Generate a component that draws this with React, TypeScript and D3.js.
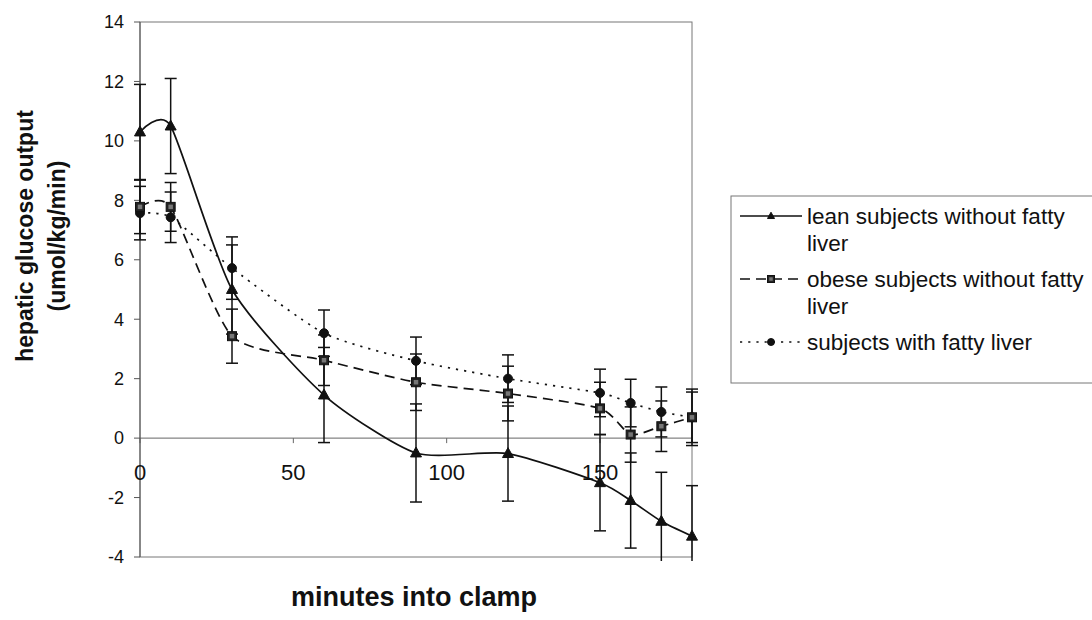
import React from "react";
import * as d3 from "d3";

const minutes = [0, 10, 30, 60, 90, 120, 150, 160, 170, 180];
const lean = [10.3, 10.5, 5.0, 1.45, -0.5, -0.52, -1.5, -2.1, -2.8, -3.3];
const leanErr = [1.6, 1.6, 1.5, 1.6, 1.65, 1.6, 1.62, 1.6, 1.65, 1.7];
const obese = [7.78, 7.78, 3.43, 2.62, 1.88, 1.5, 1.0, 0.12, 0.4, 0.7];
const obeseErr = [0.9, 0.82, 0.91, 0.85, 0.95, 0.92, 0.88, 0.93, 0.85, 0.95];
const fatty = [7.57, 7.43, 5.72, 3.53, 2.6, 2.0, 1.52, 1.18, 0.88, 0.7];
const fattyErr = [0.9, 0.85, 1.05, 0.78, 0.8, 0.8, 0.8, 0.8, 0.84, 0.85];

const yTicks = [-4, -2, 0, 2, 4, 6, 8, 10, 12, 14];
const xTicks = [0, 50, 100, 150];
const seriesNames = [
  ["lean subjects without fatty", "liver"],
  ["obese subjects without fatty", "liver"],
  ["subjects with fatty liver"],
];

const FONT = "'Liberation Sans', Arial, Helvetica, sans-serif";

type Series = {
  values: number[];
  errs: number[];
  dash: string | undefined;
  marker: "tri" | "sq" | "circ";
  name: string[];
};

const series: Series[] = [
  { values: lean, errs: leanErr, dash: undefined, marker: "tri", name: seriesNames[0] },
  { values: obese, errs: obeseErr, dash: "10,6", marker: "sq", name: seriesNames[1] },
  { values: fatty, errs: fattyErr, dash: "2.2,6", marker: "circ", name: seriesNames[2] },
];

function Marker({ kind, cx, cy, s }: { kind: string; cx: number; cy: number; s: number }) {
  if (kind === "tri") {
    const h = s * 0.9;
    return (
      <path
        d={`M${cx},${cy - h * 0.6} L${cx + s / 2},${cy + h * 0.4} L${cx - s / 2},${cy + h * 0.4} Z`}
        fill="#111"
        stroke="#111"
        strokeWidth={1}
      />
    );
  }
  if (kind === "sq") {
    return (
      <g>
        <rect x={cx - s / 2} y={cy - s / 2} width={s} height={s} fill="#222" stroke="#111" strokeWidth={1} />
        <rect x={cx - s / 4} y={cy - s / 4} width={s / 2} height={s / 2} fill="#777" />
      </g>
    );
  }
  return <circle cx={cx} cy={cy} r={s / 2} fill="#111" stroke="#111" strokeWidth={1} />;
}

export default function App() {
  const W = 1092;
  const H = 620;
  const x = d3.scaleLinear().domain([0, 180]).range([140, 692]);
  const y = d3.scaleLinear().domain([-4, 14]).range([557, 22]);

  const line = d3
    .line<number>()
    .x((_, i) => x(minutes[i]))
    .y((d) => y(d))
    .curve(d3.curveCardinal.tension(0.35));

  const capHalf = 6;
  const drawOrder = [2, 1, 0];

  return (
    <svg
      width={W}
      height={H}
      style={{ position: "absolute", left: 0, top: 0, background: "#fff" }}
      fontFamily={FONT}
    >
      <defs>
        <clipPath id="plotClip">
          <rect x={100} y={0} width={620} height={561} />
        </clipPath>
      </defs>
      <rect x={0} y={0} width={W} height={H} fill="#fff" />

      {/* plot frame */}
      <rect x={x(0)} y={y(14)} width={x(180) - x(0)} height={y(-4) - y(14)} fill="none" stroke="#777" strokeWidth={1} />
      {/* zero axis */}
      <line x1={x(0)} x2={x(180)} y1={y(0)} y2={y(0)} stroke="#666" strokeWidth={1} />
      {xTicks.map((t) => (
        <line key={"xt" + t} x1={x(t)} x2={x(t)} y1={y(0)} y2={y(0) + 5} stroke="#666" strokeWidth={1} />
      ))}
      {/* y axis */}
      <line x1={x(0)} x2={x(0)} y1={y(14)} y2={y(-4)} stroke="#555" strokeWidth={1} />
      {yTicks.map((t) => (
        <g key={"yt" + t}>
          <line x1={x(0) - 6} x2={x(0)} y1={y(t)} y2={y(t)} stroke="#555" strokeWidth={1} />
          <text x={124} y={y(t)} dy="0.35em" textAnchor="end" fontSize={18} fill="#111">
            {t}
          </text>
        </g>
      ))}
      {xTicks.map((t) => (
        <text key={"xl" + t} x={x(t)} y={480} textAnchor="middle" fontSize={22} fill="#111">
          {t}
        </text>
      ))}

      {/* error bars */}
      <g clipPath="url(#plotClip)">
        {series.map((s, si) =>
          s.values.map((v, i) => {
            const cx = x(minutes[i]);
            const top = y(v + s.errs[i]);
            const bot = y(v - s.errs[i]);
            return (
              <g key={`eb${si}-${i}`} stroke="#111" strokeWidth={1.5}>
                <line x1={cx} x2={cx} y1={top} y2={bot} />
                <line x1={cx - capHalf} x2={cx + capHalf} y1={top} y2={top} />
                <line x1={cx - capHalf} x2={cx + capHalf} y1={bot} y2={bot} />
              </g>
            );
          })
        )}
      </g>

      {/* lines */}
      {series.map((s, si) => (
        <path
          key={"ln" + si}
          d={line(s.values) || ""}
          fill="none"
          stroke="#111"
          strokeWidth={1.7}
          strokeDasharray={s.dash}
        />
      ))}

      {/* markers */}
      {drawOrder.map((si) =>
        series[si].values.map((v, i) => (
          <Marker
            key={`mk${si}-${i}`}
            kind={series[si].marker}
            cx={x(minutes[i])}
            cy={y(v)}
            s={series[si].marker === "tri" ? 11 : 9}
          />
        ))
      )}

      {/* axis titles */}
      <text x={414} y={606} textAnchor="middle" fontSize={27} fontWeight="bold" fill="#111">
        minutes into clamp
      </text>
      <g transform="translate(25,236) rotate(-90)">
        <text x={0} y={0} dy="0.35em" textAnchor="middle" fontSize={23} fontWeight="bold" fill="#111">
          hepatic glucose output
        </text>
        <text x={0} y={32} dy="0.35em" textAnchor="middle" fontSize={23} fontWeight="bold" fill="#111">
          (umol/kg/min)
        </text>
      </g>

      {/* legend */}
      <rect x={731} y={196} width={400} height={187} fill="#fff" stroke="#777" strokeWidth={1} />
      {series.map((s, si) => {
        const ly = 216 + si * 63;
        return (
          <g key={"lg" + si}>
            <line x1={740} x2={802} y1={ly} y2={ly} stroke="#111" strokeWidth={1.5} strokeDasharray={s.dash} />
            <Marker kind={s.marker} cx={771} cy={ly} s={7} />
            {s.name.map((t, k) => (
              <text key={k} x={807} y={ly + k * 27} dy="0.35em" fontSize={22.5} fill="#111">
                {t}
              </text>
            ))}
          </g>
        );
      })}
    </svg>
  );
}
